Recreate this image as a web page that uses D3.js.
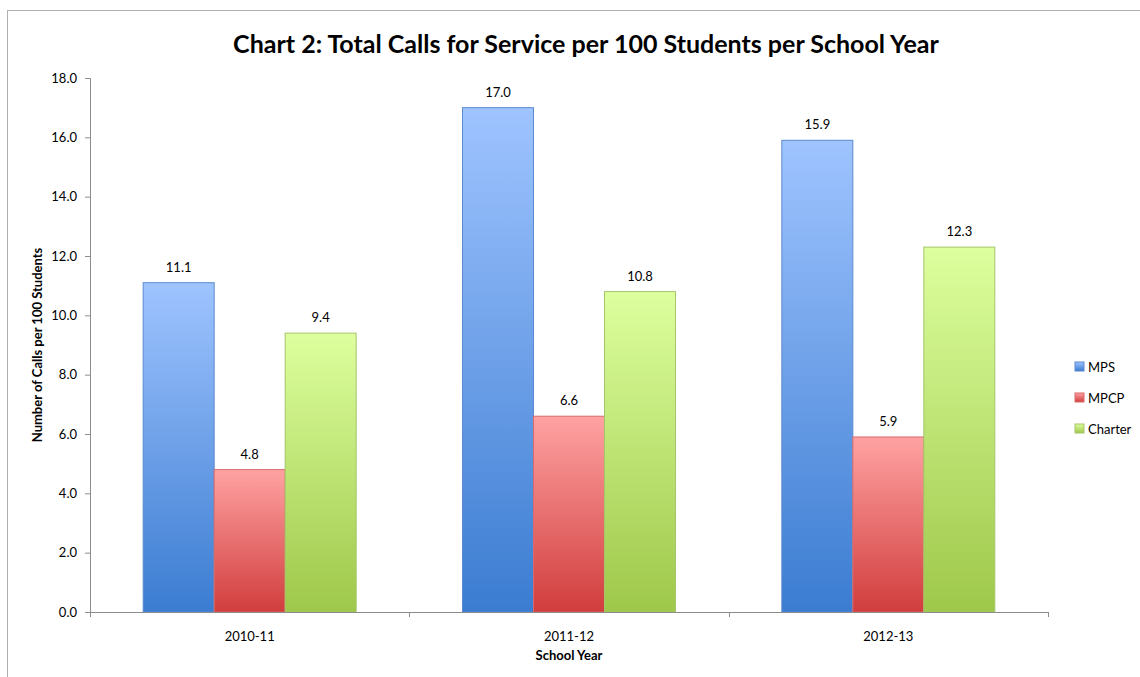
<!DOCTYPE html>
<html>
<head>
<meta charset="utf-8">
<script src="https://cdn.jsdelivr.net/npm/d3@7"></script>
<style>
  html, body { margin: 0; padding: 0; background: #fff; }
  svg { display: block; }
  text { font-family: Lato, "Open Sans", sans-serif; fill: #000; }
</style>
</head>
<body>
<svg id="chart" width="1140" height="677"></svg>
<script>
// School years on the x axis
const years = ["2010-11", "2011-12", "2012-13"];
// Series names, in legend order
const seriesNames = ["MPS", "MPCP", "Charter"];
// Calls for service per 100 students, one array per series
const mpsValues = [11.1, 17.0, 15.9];
const mpcpValues = [4.8, 6.6, 5.9];
const charterValues = [9.4, 10.8, 12.3];
// Y axis tick values
const yTicks = [0, 2, 4, 6, 8, 10, 12, 14, 16, 18];

const seriesValues = [mpsValues, mpcpValues, charterValues];
const palette = [
  { top: "#9fc4ff", bottom: "#3b7cd1", stroke: "#5a8ad0" },
  { top: "#ffa2a2", bottom: "#d13d3d", stroke: "#d96a6a" },
  { top: "#ddff9e", bottom: "#9ec84a", stroke: "#a6c56a" }
];

const svg = d3.select("#chart");
const margin = { left: 90, right: 92, top: 78, bottom: 65 };
const W = 1140, H = 677;
const plotW = 1048 - margin.left;
const plotH = 612 - margin.top;

// Outer frame
svg.append("rect")
  .attr("x", 7.5).attr("y", 10.5)
  .attr("width", 1200).attr("height", 800)
  .attr("fill", "none").attr("stroke", "#b0b0b0").attr("stroke-width", 1);

// Gradients
const defs = svg.append("defs");
palette.forEach((p, i) => {
  const g = defs.append("linearGradient")
    .attr("id", "grad" + i)
    .attr("x1", 0).attr("y1", 0).attr("x2", 0).attr("y2", 1);
  g.append("stop").attr("offset", "0%").attr("stop-color", p.top);
  g.append("stop").attr("offset", "100%").attr("stop-color", p.bottom);
});

const g = svg.append("g").attr("transform", `translate(${margin.left},${margin.top})`);

const x0 = d3.scaleBand().domain(years).range([0, plotW]).paddingInner(0).paddingOuter(0);
const groupPad = 0.1665;
const x1 = d3.scaleBand().domain(seriesNames)
  .range([x0.bandwidth() * groupPad, x0.bandwidth() * (1 - groupPad)]).padding(0);
const y = d3.scaleLinear().domain([0, 18]).range([plotH, 0]);

// Bars
const groups = g.selectAll(".year").data(years).enter().append("g")
  .attr("transform", d => `translate(${x0(d)},0)`);

seriesNames.forEach((s, si) => {
  groups.append("rect")
    .attr("x", x1(s))
    .attr("y", (d, i) => y(seriesValues[si][i]))
    .attr("width", x1.bandwidth())
    .attr("height", (d, i) => plotH - y(seriesValues[si][i]))
    .attr("fill", `url(#grad${si})`)
    .attr("stroke", palette[si].stroke)
    .attr("stroke-width", 1);
  groups.append("text")
    .attr("x", x1(s) + x1.bandwidth() / 2)
    .attr("y", (d, i) => y(seriesValues[si][i]) - 11)
    .attr("text-anchor", "middle")
    .attr("font-size", 13)
    .text((d, i) => seriesValues[si][i].toFixed(1));
});

// Y axis
const yAxis = d3.axisLeft(y).tickValues(yTicks).tickFormat(d3.format(".1f")).tickSize(5).tickPadding(8);
const yG = g.append("g").call(yAxis);
yG.select(".domain").attr("stroke", "#8c8c8c").attr("d", `M-5,0.5H0.5V${plotH}`);
yG.selectAll(".tick line").attr("stroke", "#8c8c8c");
yG.selectAll(".tick text").attr("font-size", 13).attr("font-family", "Lato, 'Open Sans', sans-serif").attr("fill", "#000");

// X axis with ticks at category boundaries
const xAxisG = g.append("g").attr("transform", `translate(0,${plotH})`);
xAxisG.append("line").attr("x1", 0).attr("x2", plotW).attr("y1", 0.5).attr("y2", 0.5)
  .attr("stroke", "#8c8c8c");
const bounds = years.map(d => x0(d)).concat([plotW]);
xAxisG.selectAll(".xtick").data(bounds).enter().append("line")
  .attr("x1", d => Math.round(d) + 0.5).attr("x2", d => Math.round(d) + 0.5)
  .attr("y1", 0).attr("y2", 5).attr("stroke", "#8c8c8c");
xAxisG.selectAll(".xlabel").data(years).enter().append("text")
  .attr("x", d => x0(d) + x0.bandwidth() / 2)
  .attr("y", 29)
  .attr("text-anchor", "middle")
  .attr("font-size", 13)
  .text(d => d);

// Axis titles
svg.append("text")
  .attr("x", 569).attr("y", 660)
  .attr("text-anchor", "middle")
  .attr("font-size", 13).attr("font-weight", "bold")
  .text("School Year");
svg.append("text")
  .attr("transform", `translate(42,${margin.top + plotH / 2}) rotate(-90)`)
  .attr("text-anchor", "middle")
  .attr("font-size", 13).attr("font-weight", "bold")
  .text("Number of Calls per 100 Students");

// Title
svg.append("text")
  .attr("x", 586).attr("y", 53)
  .attr("text-anchor", "middle")
  .attr("font-size", 25).attr("font-weight", "bold")
  .text("Chart 2: Total Calls for Service per 100 Students per School Year");

// Legend
const legend = svg.append("g").attr("transform", "translate(1075,362)");
seriesNames.forEach((s, i) => {
  const row = legend.append("g").attr("transform", `translate(0,${i * 31})`);
  row.append("rect").attr("x", 0).attr("y", 0).attr("width", 9).attr("height", 9)
    .attr("fill", `url(#grad${i})`).attr("stroke", palette[i].stroke);
  row.append("text").attr("x", 13).attr("y", 10).attr("font-size", 13).text(s);
});
</script>
</body>
</html>
